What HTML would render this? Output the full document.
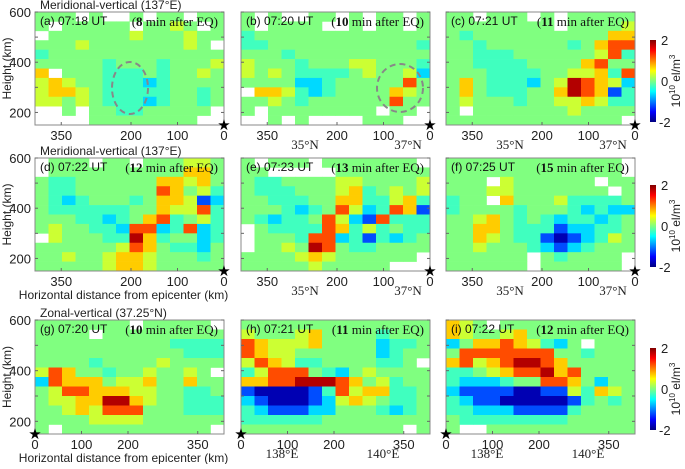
<!DOCTYPE html>
<html><head><meta charset="utf-8"><style>
body{margin:0;background:#fff;}
svg text{font-family:"Liberation Sans",sans-serif;}
svg text.serif{font-family:"Liberation Serif",serif;}
</style></head><body>
<svg id="fig" width="685" height="464" viewBox="0 0 685 464" xmlns="http://www.w3.org/2000/svg"></svg>
<script>
// value codes: '.' = no data, a..i = increasing TEC perturbation (10^10 el/m^3)
const codeValues=[-1.8,-1.2,-0.65,-0.25,0,0.3,0.7,1.2,1.8];
const heightTicks=[600,400,200];
const distTicks=[0,100,200,350];
const cbTicks=[2,0,-2];
const panelA=["eee.e..e.ee.ee","e.eeeee.eefe.e",".eeeeeefeeefee","eeefeeeeeeefe.","deeeeeeeeeeeee","eeeeedeeedeeef","g.eeedddedeefe","fgfeedddcdeeee","fggfedddddeede","ffefedddcdeede","..e.eeddeeeee.","....eeeeeeee.."];
const panelB=["e.e..ee.e.ee.e","e.eeee..e.ee.e","deeeeeeeeeeeee","ddeeeeeeeeeeed","eeedeeeeeeeeee","feeedeeeffeeed","fefeddddefeefc","eeeeccdeeeeehe",".ggfdcdeeeegfe","eefedeeeeeehee","e.eeeeeeee.ee.","..e.e....eee.."];
const panelC=["ee.eee.e.eeeee","eeeeeeee.eeeef","edeeeeeeeeeegg","eedeeeeeedeghh","eedddeeeeeefhd","eeddddeeeeghee","eeeddddeeffgdh","egedddcefihgfc","egedddeegihgbd","efeeedeeffgfdd","e.eeeeeeefeeee","eeeeeeeeeeeee."];
const panelD=[".eee.ee.eeeffe",".eeeeeeeeeegge","eddeeeeeeggfge","eddeeeeeehgefd","edcdeeedeggfbc","eddddddeegffhd","eeeddcdeghdefd","efeeddchhcdhcd",".feeeddigdeecd","eeeeeefhgeddce","eefeefggfeeede","eeeeefggfeeeee"];
const panelE=["e.eee.eeeeeee.","ee.....eeeeeee","eddeeeeffeeeef","edddeeefgdefef","eedddeeggddfgd","eeedcdehfcdhgb","edcddehfcbhddd",".eddddhgdfdedd",".eeedhhcdbdcde",".eefeiheddeeee","eeeefgfeeeeee.","eeeeefeeeee..."];
const panelF=["eeeeeeeeeeeee.","eeeeeeeeeeeee.","eee.feeeeee.ee","eeeffeeeeeee.e","dee.geeefdddde","deeeedeeedcdcc","eefgededcddcde","eeggedddbccdde","eegfeddbabcdfe","eefeeedcbcdeee","eeeeee.edeeee.","eeeeee.eeeeee."];
const panelG=["eeeeeee.eeeee.","eeee.eeeeeeeee","eeeeeeeeeedddd","eeeeeeeeeeeddd","eeeedeeeefeeee","fhgeedeefeefe.","chgggeffgeegee","efhhgggffeedde","effggiigfeeddd","eefgfhhheeeddd","eeeeffffeeeeee","e.eeeeeeeeeee."];
const panelH=["eeeeeeeeeeeeee","feeefgeeeedeee","hgfffgeeeecdde","hgffeeeeeecdee","fhgfddeeeedde.","dfhhhedcefeeee","gghhiiihgefdee","baaaabdhfggdde","cbaaabcfgfedde","dcbbbcceeedcde","ddddddeeeeeeee","eeeeeeeeeeee.e"];
const panelI=["gfe.eeeeeeeeee","gfeefgeeeeeeee","cegghgfdce.eee","ehhhhhhheedeee","ghfghiihgeeeee","ddefghhigheeee","dcccdeehhgecee","cbbbbaabbfdgfe","dcbbaaaaabdede","ddcccbbbbdeeee","eddddddddeeeee","e..eeeeeeeeeee"];
const labels=["(a) 07:18 UT","(b) 07:20 UT","(c) 07:21 UT","(d) 07:22 UT","(e) 07:23 UT","(f) 07:25 UT","(g) 07:20 UT","(h) 07:21 UT","(i) 07:22 UT"];
const minutes=[8,10,11,12,13,15,10,11,12];

const NS="http://www.w3.org/2000/svg";
const svg=document.getElementById('fig');
function mk(tag,attrs,parent){const e=document.createElementNS(NS,tag);for(const k in attrs)e.setAttribute(k,attrs[k]);(parent||svg).appendChild(e);return e;}
function jet(v){const t=Math.max(0,Math.min(1,(v+2)/4));const c=x=>Math.round(255*Math.max(0,Math.min(1,1.5-Math.abs(4*t-x))));return `rgb(${c(3)},${c(2)},${c(1)})`;}
function code2val(ch){return codeValues["abcdefghi".indexOf(ch)];}

const colsX=[35,241,446], rowsY=[[12,125],[158,271],[320,434]], PW=189;
const panels=[panelA,panelB,panelC,panelD,panelE,panelF,panelG,panelH,panelI];
const rowTitles=["Meridional-vertical (137°E)","Meridional-vertical (137°E)","Zonal-vertical (37.25°N)"];

panels.forEach((data,p)=>{
  const r=Math.floor(p/3), c=p%3;
  const L=colsX[c], T=rowsY[r][0], B=rowsY[r][1], R=L+PW;
  const yS=h=>B-(h-150)/450*(B-T);
  const reversed=r<2;
  const xS=km=>reversed? R-km*0.465 : L+km*0.465;
  const g=mk('g',{});
  
  
  const nR=data.length, nC=data[0].length, cw=PW/nC, rh=(B-T)/nR;
  data.forEach((row,i)=>{for(let j=0;j<nC;j++){const ch=row[j];if(ch==='.')continue;
    const cell=mk('rect',{x:(L+j*cw).toFixed(2),y:(T+i*rh).toFixed(2),width:(cw+0.3).toFixed(2),height:(rh+0.3).toFixed(2),fill:jet(code2val(ch))},g);
    
    }});
  const fr=mk('rect',{x:L,y:T,width:PW,height:B-T,fill:'none',stroke:'#888','stroke-width':1},g);
  
  heightTicks.concat([300,500]).forEach(h=>{const y=yS(h);
    mk('line',{x1:L,x2:L+3,y1:y,y2:y,stroke:'#666'},g);mk('line',{x1:R,x2:R-3,y1:y,y2:y,stroke:'#666'},g);});
  if(c===0){heightTicks.forEach(h=>{const t=mk('text',{x:L-4,y:yS(h)+5,'text-anchor':'end','font-size':13,fill:'#222'},g);t.textContent=h;
      });
    const yt=mk('text',{x:0,y:0,transform:`translate(${L-24},${(T+B)/2}) rotate(-90)`,'text-anchor':'middle','font-size':12,fill:'#222'},g);yt.textContent='Height (km)';
    }
  distTicks.forEach(k=>{const x=xS(k);mk('line',{x1:x,x2:x,y1:B,y2:B-3,stroke:'#666'},g);
    const t=mk('text',{x:x,y:B+15,'text-anchor':'middle','font-size':13,fill:'#222'},g);t.textContent=k;
    });
  if(c===0 && r>0){const xt=mk('text',{x:L+PW/2-6,y:B+28,'text-anchor':'middle','font-size':12,fill:'#222'},g);xt.textContent='Horizontal distance from epicenter (km)';
    }
  else if(c>0){const a=r<2?["35°N","37°N"]:["138°E","140°E"];const off=r<2?[64,167]:[41,142];
    a.forEach((s,q)=>{const t=mk('text',{x:L+off[q],y:B+24,'text-anchor':'middle','font-size':13,fill:'#222','class':'serif'},g);t.textContent=s;
    });}
  const st=mk('text',{x:reversed?R:L,y:B+5,'text-anchor':'middle','font-size':15,fill:'#000'},g);st.textContent='★';
  
  const lb=mk('text',{x:L+5,y:T+13,'font-size':12,fill:'#111'},g);lb.textContent=labels[p];
  
  const mt=mk('text',{x:R-6,y:T+14,'text-anchor':'end','font-size':13,fill:'#111','class':'serif'},g);
  mt.innerHTML=`(<tspan font-weight="bold">${minutes[p]}</tspan> min after EQ)`;
  
  if(c===0){const tt=mk('text',{x:L+5,y:T-3,'font-size':12,fill:'#222'});tt.textContent=rowTitles[r];
    }
});
// dashed ellipses
[[130,88,18,26],[400,88,23,24]].forEach(e=>{const el=mk('ellipse',{cx:e[0],cy:e[1],rx:e[2],ry:e[3],fill:'none',stroke:'#888','stroke-width':2,'stroke-dasharray':'6,4'});
  });
// colorbars
const defs=mk('defs',{});const lg=mk('linearGradient',{id:'jet',x1:0,y1:1,x2:0,y2:0},defs);
for(let i=0;i<=8;i++)mk('stop',{offset:i/8,'stop-color':jet(-2+i*0.5)},lg);
[[40,122],[185,267],[348,430]].forEach(cb=>{const g=mk('g',{});
  mk('rect',{x:650,y:cb[0],width:6,height:cb[1]-cb[0],fill:'url(#jet)'},g);
  cbTicks.forEach(v=>{const y=cb[1]-(v+2)/4*(cb[1]-cb[0]);const t=mk('text',{x:v<0?659:661,y:y+5,'font-size':13,fill:'#222'},g);t.textContent=v;
    });
  const u=mk('text',{x:0,y:0,transform:`translate(680,${(cb[0]+cb[1])/2}) rotate(-90)`,'text-anchor':'middle','font-size':12,fill:'#222'},g);
  u.innerHTML='10<tspan dy="-5" font-size="8">10</tspan><tspan dy="5"> el/m</tspan><tspan dy="-5" font-size="8">3</tspan>';
  });
</script>
</body></html>
